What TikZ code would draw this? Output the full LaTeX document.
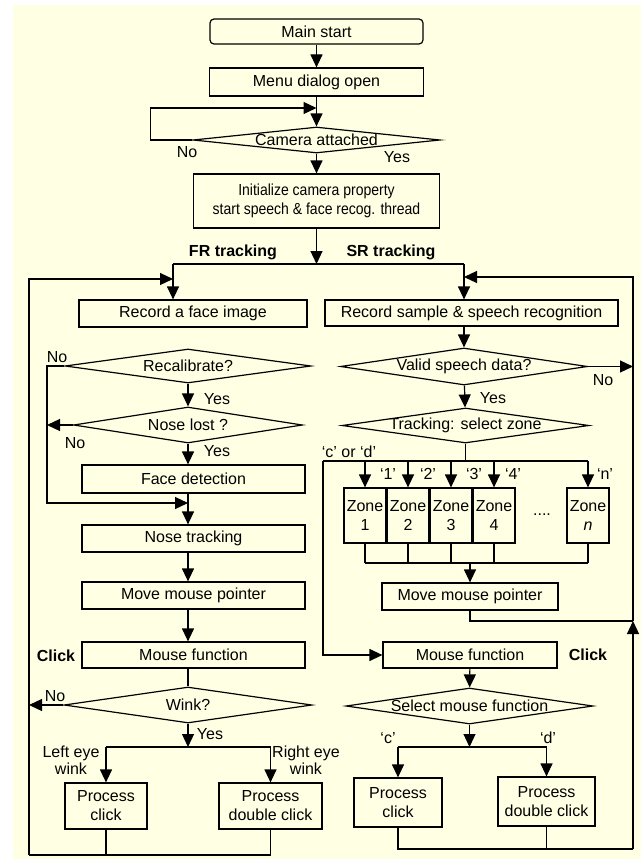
\documentclass[tikz,border=0pt]{standalone}
\usepackage{fontspec}
\setmainfont{Liberation Sans}
\newfontfamily\narrowfont[FakeStretch=0.875]{Liberation Sans}
\usepackage{xcolor}
\usepackage{tikz}
\usetikzlibrary{arrows.meta,shapes.geometric}
\definecolor{paper}{RGB}{255,255,228}

\begin{document}
\begin{tikzpicture}[x=1pt,y=-1pt,>={Triangle[length=13pt,width=12pt]},line width=1.2pt,
    every node/.style={font=\fontsize{16}{19}\selectfont,inner sep=0pt},
    box/.style={draw,align=center},
    fbox/.style={box,minimum width=223pt,minimum height=27pt},
    zonebox/.style={box,minimum width=42pt,minimum height=55pt},
    decision/.style={draw,shape=diamond,
      execute at begin node={\hbox to 0pt\bgroup\hss},
      execute at end node={\hss\egroup}},
    lbl/.style={align=center,font=\fontsize{16}{17}\selectfont},
    bold/.style={font=\fontsize{16}{19}\selectfont\bfseries}]
  \useasboundingbox (0,0) rectangle (641,859);
  \fill[paper] (13,5) rectangle (641,859);
  % start up
  \node[box,rounded corners=4pt,minimum width=213pt,minimum height=25pt] (start) at (316.5,31.5) {Main start};
  \node[box,minimum width=214pt,minimum height=28pt] (menu) at (316.5,82) {Menu dialog open};
  \node[decision,minimum width=247pt,minimum height=26pt] (cam) at (316.5,140) {Camera attached};
  \node[box,minimum width=246pt,minimum height=54pt,font=\narrowfont\fontsize{16}{19}\selectfont] (init) at (316.5,201)
    {Initialize camera property\\start speech \& face recog. thread};
  \coordinate (camloop) at (316.5,108);
  \coordinate (split) at (316.5,264);
  \coordinate (frtop) at (173,264);
  \coordinate (srtop) at (464,264);
  \node (camno) at (187,152) {No};
  \node (camyes) at (397,157) {Yes};
  \node[bold] (frlbl) at (233,252) {FR tracking};
  \node[bold] (srlbl) at (391,252) {SR tracking};
  \draw[->] (start) -- (menu);
  \draw[->] (menu) -- (cam);
  \draw[->] (cam.west) -- ++(-42pt,0) |- (camloop);
  \draw[->] (cam) -- (init);
  \draw[->] (init) -- (split);
  \draw (frtop) -- (srtop);

  % FR tracking column
  \coordinate (frx) at (188,0);
  \node[box,minimum width=228pt,minimum height=27pt] (recf) at (193,313.5) {Record a face image};
  \node[decision,minimum width=246pt,minimum height=34pt] (recal) at (188,366) {Recalibrate?};
  \node[decision,minimum width=229pt,minimum height=36pt] (nose) at (188,425) {Nose lost ?};
  \node[fbox,minimum height=28pt] (facedet) at (193.5,479) {Face detection};
  \node[fbox] (nosetr) at (193.5,538.5) {Nose tracking};
  \node[fbox] (movef) at (193.5,595.5) {Move mouse pointer};
  \node[fbox,minimum height=26pt] (mousef) at (193.5,655) {Mouse function};
  \node[decision,minimum width=248pt,minimum height=36pt] (wink) at (188,705) {Wink?};
  \node[box,minimum width=82pt,minimum height=46pt] (pcf) at (106,806) {Process\\click};
  \node[box,minimum width=103pt,minimum height=46pt] (pdcf) at (270.5,806) {Process\\double click};
  \coordinate (byp) at (47,503);
  \coordinate (frjoin) at (188,503);
  \coordinate (wbus) at (188,747);
  \coordinate (fbot) at (29,855);
  \coordinate (frin) at (173,279);
  \node (recno) at (57,357) {No};
  \node (recyes) at (217,399) {Yes};
  \node (noseno) at (75,443) {No};
  \node (noseyes) at (217,451) {Yes};
  \node[bold] (frclick) at (56,656) {Click};
  \node (winkno) at (55,696) {No};
  \node (winkyes) at (210,734) {Yes};
  \node[lbl] (lefteye) at (71,760) {Left eye\\wink};
  \node[lbl] (righteye) at (306,760) {Right eye\\wink};
  \draw[->] (frtop) -- (frtop |- recf.north);
  \draw[->] (recal.west) -| (byp) -- (frjoin);
  \draw[->] (recal) -- (nose);
  \draw[->] (nose.west) -- (nose.west -| byp);
  \draw[->] (nose.south) -- (frx |- facedet.north);
  \draw[->] (frx |- facedet.south) -- (frx |- nosetr.north);
  \draw[->] (frx |- nosetr.south) -- (frx |- movef.north);
  \draw[->] (frx |- movef.south) -- (frx |- mousef.north);
  \draw (frx |- mousef.south) -- (wink.north);
  \draw[->] (wink.west) -- (wink.west -| fbot);
  \draw[->] (wink.south) -- (wbus);
  \draw (pcf.north |- wbus) -- (pdcf.north |- wbus);
  \draw[->] (pcf.north |- wbus) -- (pcf.north);
  \draw[->] (pdcf.north |- wbus) -- (pdcf.north);
  \draw (pcf.south) -- (pcf.south |- fbot);
  \draw (pdcf.south) |- (fbot);
  \draw[->] (fbot) |- (frin);

  % SR tracking column
  \node[box,minimum width=293pt,minimum height=26pt] (recs) at (471.5,313) {Record sample \& speech recognition};
  \node[decision,minimum width=247pt,minimum height=37pt] (valid) at (464,366.5) {Valid speech data?};
  \node[decision,minimum width=247pt,minimum height=35pt] (track) at (465.5,425.5) {Tracking: select zone};
  \node[zonebox] (z1) at (365,515.5) {Zone\\1};
  \node[zonebox] (z2) at (408,515.5) {Zone\\2};
  \node[zonebox] (z3) at (451,515.5) {Zone\\3};
  \node[zonebox] (z4) at (494,515.5) {Zone\\4};
  \node[zonebox] (zn) at (588,515.5) {Zone\\\textit{n}};
  \node[box,minimum width=176pt,minimum height=27pt] (movesr) at (470,596.5) {Move mouse pointer};
  \node[box,minimum width=174pt,minimum height=26pt] (mousesr) at (470,655) {Mouse function};
  \node[decision,minimum width=247pt,minimum height=36pt] (sel) at (469.5,706) {Select mouse function};
  \node[box,minimum width=88pt,minimum height=49pt] (pcs) at (398,802.5) {Process\\click};
  \node[box,minimum width=97pt,minimum height=49pt] (pdcs) at (546.5,801.5) {Process\\double click};
  \coordinate (tbus) at (465.5,461);
  \coordinate (cdleft) at (323,461);
  \coordinate (zbus) at (470,563);
  \coordinate (srjoin) at (633,621);
  \coordinate (sbus) at (469.5,747);
  \coordinate (sbot) at (633,849);
  \coordinate (srin) at (464,277);
  \node (validno) at (603,380) {No};
  \node (validyes) at (493,398) {Yes};
  \node (cord) at (349,452) {`c' or `d'};
  \node (k1) at (388,474) {`1'};
  \node (k2) at (428,474) {`2'};
  \node (k3) at (474,474) {`3'};
  \node (k4) at (513,474) {`4'};
  \node (kn) at (605,474) {`n'};
  \node (dots) at (542,515) {....};
  \node[bold] (srclick) at (588,655) {Click};
  \node (kc) at (388,738) {`c'};
  \node (kd) at (548,738) {`d'};
  \draw[->] (srtop) -- (srtop |- recs.north);
  \draw[->] (valid.north |- recs.south) -- (valid.north);
  \draw[->] (valid.east) -- (valid.east -| sbot);
  \draw[->] (valid) -- (track);
  \draw (track.south) -- (tbus);
  \draw (cdleft) -- (zn.north |- tbus);
  \foreach \z in {z1,z2,z3,z4,zn} {
    \draw[->] (\z.north |- tbus) -- (\z.north);
    \draw (\z.south) -- (\z.south |- zbus);
  }
  \draw (z1.south |- zbus) -- (zn.south |- zbus);
  \draw[->] (zbus) -- (movesr.north);
  \draw (movesr.south) |- (srjoin);
  \draw[->] (cdleft) |- (mousesr.west);
  \draw[->] (mousesr) -- (sel);
  \draw[->] (sel) -- (sbus);
  \draw (pcs.north |- sbus) -- (pdcs.north |- sbus);
  \draw[->] (pcs.north |- sbus) -- (pcs.north);
  \draw[->] (pdcs.north |- sbus) -- (pdcs.north);
  \draw (pcs.south) |- (sbot);
  \draw (pdcs.south) -- (pdcs.south |- sbot);
  \draw[->] (sbot) -- (srjoin);
  \draw[->] (srjoin) |- (srin);
\end{tikzpicture}
\end{document}
